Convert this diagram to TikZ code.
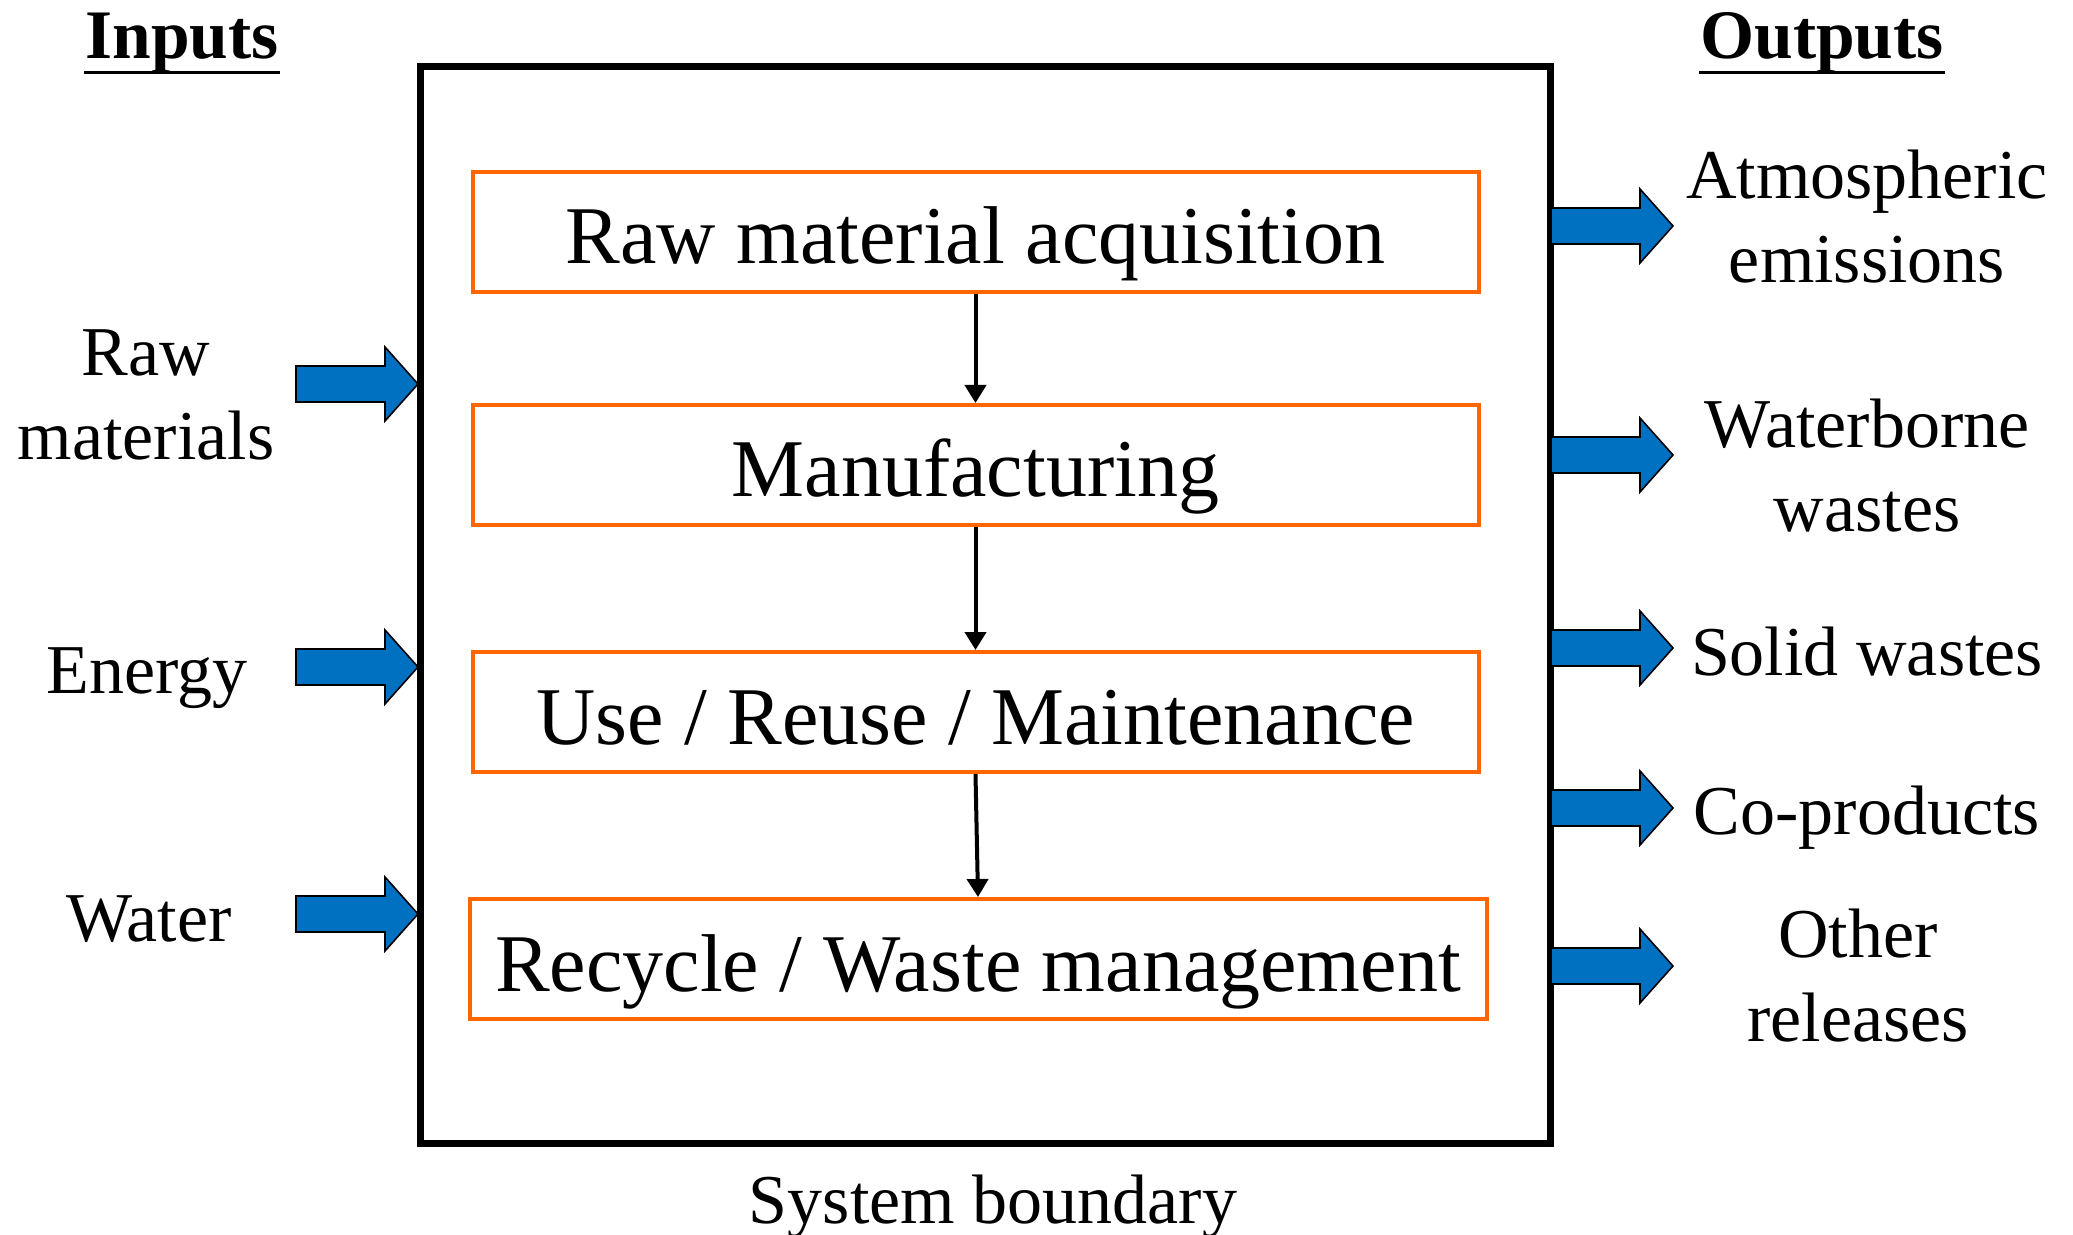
\documentclass[tikz,border=0pt]{standalone}
\usepackage{fontspec}
\setmainfont{Liberation Serif}
\usetikzlibrary{arrows.meta}
\definecolor{lcaorange}{RGB}{255,102,0}
\definecolor{lcablue}{RGB}{0,112,192}
\begin{document}
\begin{tikzpicture}[x=0.5pt,y=-0.5pt,
  stage/.style={draw=lcaorange, line width=2pt, minimum width=#1, minimum height=60pt,
    inner sep=0pt, text height=34pt, text depth=2pt, font=\fontsize{41}{49}\selectfont},
  lbl/.style={inner sep=0pt, anchor=base, font=\fontsize{35}{42}\selectfont},
  head/.style={inner sep=0pt, anchor=base, font=\fontsize{34.75}{42}\selectfont\bfseries},
  flow/.style={-{Triangle[length=9pt,width=10.5pt]}, line width=2pt},
  ulin/.style={line width=1.5pt},
  blk/.style={draw=black, fill=lcablue, line width=0.8pt, line join=miter},
  barrow/.pic={\path[blk] (-122,-18) -- (-33,-18) -- (-33,-37) -- (0,0) -- (-33,37) -- (-33,18) -- (-122,18) -- cycle;}
]
\useasboundingbox (0,0) rectangle (2073,1235);

% system boundary
\node[draw, line width=3.5pt, minimum width=565pt, minimum height=538pt, inner sep=0pt] (sys) at (985,605) {};
\node[lbl] (sb) at (993,1223) {System boundary};

% life-cycle stages
\node[stage=503pt] (s1) at (975.5,232) {Raw material acquisition};
\node[stage=503pt] (s2) at (975.5,465) {Manufacturing};
\node[stage=503pt] (s3) at (975.5,712) {Use / Reuse / Maintenance};
\node[stage=508.5pt] (s4) at (978,959) {Recycle / Waste management};

\draw[flow] (s1) -- (s2);
\draw[flow] (s2) -- (s3);
\draw[flow] (s3.south) -- (s4.north);

% headings
\node[head] (inputs) at (182,59) {Inputs};
\node[head] (outputs) at (1822,59) {Outputs};
\draw[ulin] ([yshift=-6.75pt,xshift=-0.5pt]inputs.base west) -- ([yshift=-6.75pt,xshift=0.5pt]inputs.base east);
\draw[ulin] ([yshift=-6.75pt,xshift=-0.5pt]outputs.base west) -- ([yshift=-6.75pt,xshift=0.5pt]outputs.base east);

% inputs
\node[lbl] (rawin) at (146,460) {\begin{tabular}[b]{@{}c@{}}Raw\\materials\end{tabular}};
\node[lbl] (energy) at (147,693) {Energy};
\node[lbl] (water) at (149,941) {Water};
\pic at (418,384) {barrow};
\pic at (418,667) {barrow};
\pic at (418,914) {barrow};

% outputs
\node[lbl] (atm) at (1867,283) {\begin{tabular}[b]{@{}c@{}}Atmospheric\\emissions\end{tabular}};
\node[lbl] (wat) at (1867,531) {\begin{tabular}[b]{@{}c@{}}Waterborne\\wastes\end{tabular}};
\node[lbl] (sol) at (1867,675) {Solid wastes};
\node[lbl] (cop) at (1867,834) {Co-products};
\node[lbl] (oth) at (1858,1041) {\begin{tabular}[b]{@{}c@{}}Other\\releases\end{tabular}};
\pic at (1673,226) {barrow};
\pic at (1673,455) {barrow};
\pic at (1673,648) {barrow};
\pic at (1673,808) {barrow};
\pic at (1673,966) {barrow};
\end{tikzpicture}
\end{document}
